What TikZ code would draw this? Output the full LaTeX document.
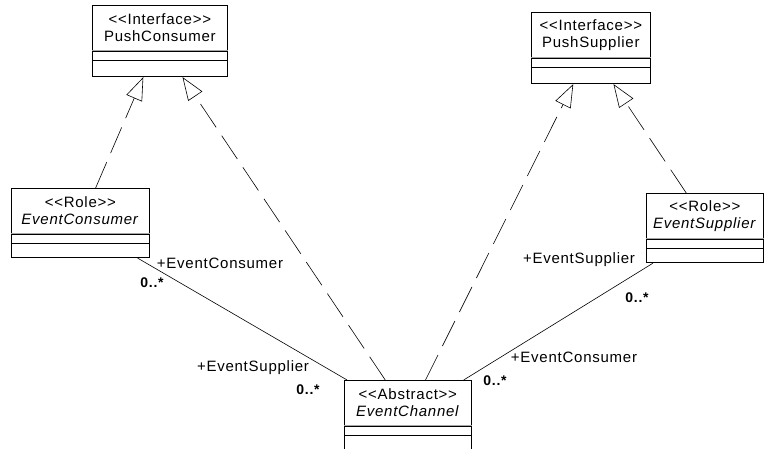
\documentclass[tikz,border=0pt]{standalone}
\usepackage{fontspec}
\setmainfont{Liberation Sans}[LetterSpace=5,Ligatures=TeXOff]
\usetikzlibrary{positioning,calc,arrows.meta}
\newcommand\stereo[1]{<{}<#1>{}>}
\tikzset{
    classname/.style={draw,line width=0.7pt,align=center,inner sep=0pt,
        minimum height=45,anchor=north west,font=\fontsize{15}{17}\selectfont},
    classpart/.style={draw,line width=0.7pt,inner sep=0pt,minimum height=9},
    divider/.style={gray!70,line width=1.1pt},
    realize/.style={line width=0.6pt,dash pattern=on 28pt off 10pt,
        -{Triangle[open,length=23pt,width=17pt]}},
    assoc/.style={line width=0.6pt},
    rolename/.style={inner sep=0pt,font=\fontsize{15}{17}\selectfont},
    mult/.style={inner sep=0pt,font=\bfseries\fontsize{14}{16}\selectfont}
}
\begin{document}
\begin{tikzpicture}[x=1pt,y=-1pt]
        \useasboundingbox (0,0) rectangle (764,448);

        % classes: name / left / top / width / methods height / stereotype / title
        \foreach \n/\x/\y/\w/\h/\st/\t in{pc/92/5/135/16/Interface/PushConsumer,
                ps/531/12/119/16/Interface/PushSupplier,
                ecn/11/188/138/14/Role/\textit{EventConsumer},
                esp/646/193/117/14/Role/\textit{EventSupplier},
                ch/344/380/127/30/Abstract/\textit{EventChannel}} {
                \node[classname,minimum width=\w] (\n) at (\x,\y) {\stereo{\st}\\\t};
                \node[classpart,minimum width=\w,below=0pt of \n] (\n-a) {};
                \node[classpart,minimum width=\w,minimum height=\h,below=0pt of \n-a] (\n-m) {};
                \draw[divider] (\n.south west) -- (\n.south east);
            }

        % realizations
        \draw[realize] ($(ecn.north west)!.61!(ecn.north east)$) -- ($(pc-m.south west)!.378!(pc-m.south east)$);
        \draw[realize] ($(ch.north west)!.323!(ch.north east)$) -- ($(pc-m.south west)!.667!(pc-m.south east)$);
        \draw[realize] ($(ch.north west)!.638!(ch.north east)$) -- ($(ps-m.south west)!.353!(ps-m.south east)$);
        \draw[realize] ($(esp.north west)!.342!(esp.north east)$) -- ($(ps-m.south west)!.689!(ps-m.south east)$);

        % associations
        \draw[assoc] ($(ecn-m.south west)!.913!(ecn-m.south east)$) -- ($(ch.north west)!.024!(ch.north east)$);
        \draw[assoc] ($(esp-m.south west)!.06!(esp-m.south east)$) -- ($(ch.north west)!.937!(ch.north east)$);

        \node[rolename] (ecnRole) at (220,263) {+EventConsumer};
        \node[mult] (ecnMult) at (152,283) {0..*};
        \node[rolename] (espRole) at (579,260) {+EventSupplier};
        \node[mult] (espMult) at (637,298) {0..*};
        \node[rolename] (chSupRole) at (253,368) {+EventSupplier};
        \node[mult] (chSupMult) at (308,390) {0..*};
        \node[rolename] (chConRole) at (574,357) {+EventConsumer};
        \node[mult] (chConMult) at (495,381) {0..*};

    \end{tikzpicture}
\end{document}
